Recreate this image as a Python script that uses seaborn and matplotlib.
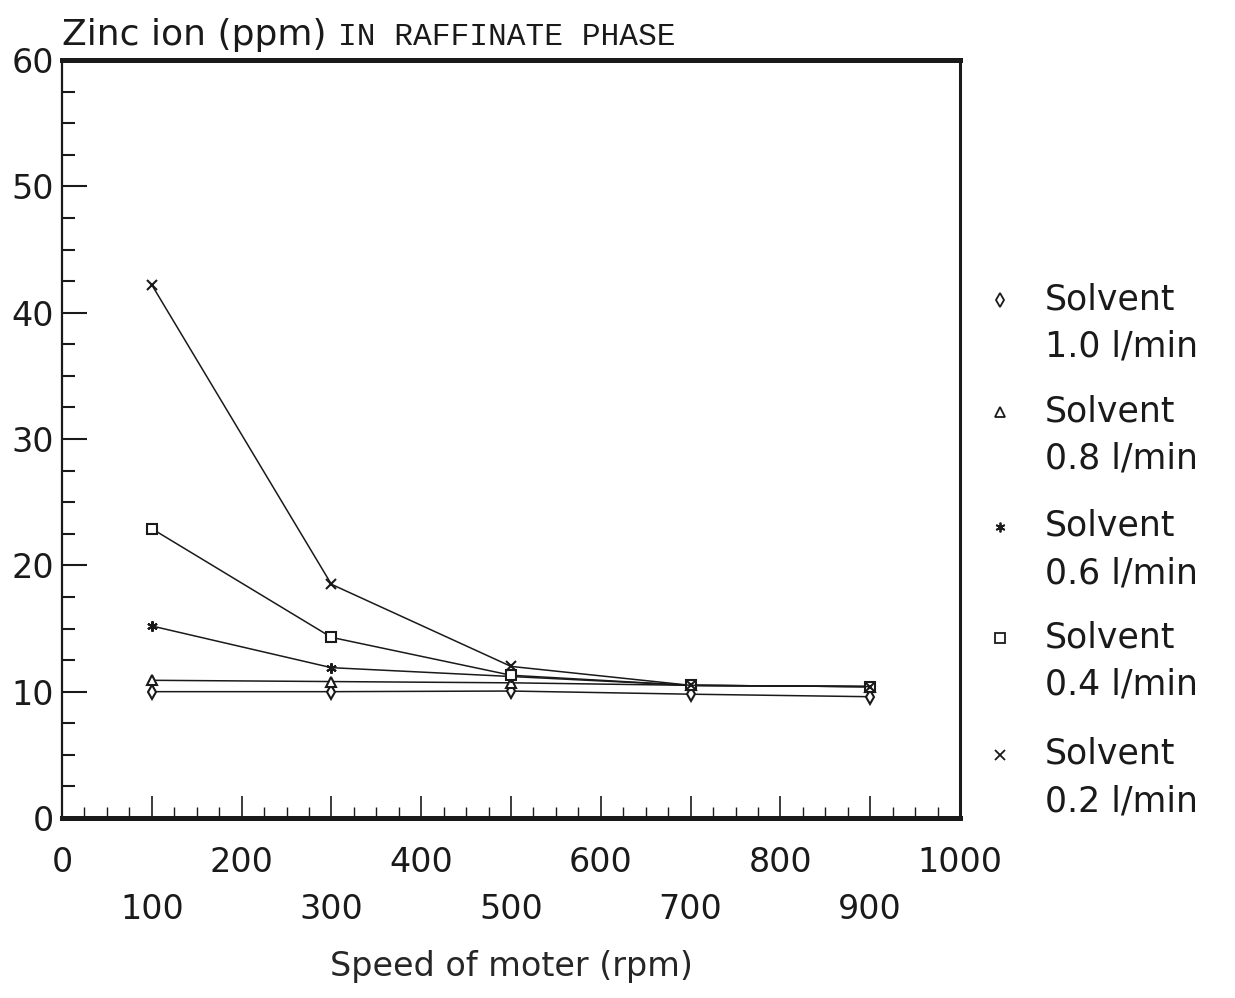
import numpy as np
import pandas as pd
import matplotlib
matplotlib.use('Agg')
import matplotlib.pyplot as plt
from matplotlib.lines import Line2D
from matplotlib.ticker import MultipleLocator
import seaborn as sns

# Data
speed = [100, 300, 500, 700, 900]
solvent_rates = ['1.0', '0.8', '0.6', '0.4', '0.2']
zinc_10 = [10.0, 10.0, 10.05, 9.8, 9.6]
zinc_08 = [10.9, 10.8, 10.7, 10.5, 10.4]
zinc_06 = [15.2, 11.9, 11.2, 10.5, 10.4]
zinc_04 = [22.9, 14.3, 11.3, 10.5, 10.4]
zinc_02 = [42.2, 18.5, 12.0, 10.5, 10.4]
x_ticks = [0, 100, 200, 300, 400, 500, 600, 700, 800, 900, 1000]
y_ticks = [0, 10, 20, 30, 40, 50, 60]

series = [zinc_10, zinc_08, zinc_06, zinc_04, zinc_02]
df = pd.DataFrame({
    'speed': speed * len(series),
    'zinc': np.concatenate(series),
    'solvent': np.repeat(solvent_rates, len(speed)),
})

sns.set_style('ticks')
plt.rcParams['font.family'] = ['DejaVu Sans']

marker_map = {'1.0': 'd', '0.8': '^', '0.6': (6, 2, 0), '0.4': 's', '0.2': 'x'}
ink = '#1a1a1a'

fig = plt.figure(figsize=(12.35, 9.98), dpi=100)
ax = fig.add_axes([62 / 1235, 1 - 818 / 998, (960 - 62) / 1235, (818 - 60) / 998])

for rate in solvent_rates:
    sub = df[df['solvent'] == rate]
    sns.lineplot(data=sub, x='speed', y='zinc', color=ink, linewidth=1.1,
                 marker=marker_map[rate], markersize=7.5, markerfacecolor='white',
                 markeredgecolor=ink, markeredgewidth=1.5, legend=False, ax=ax)

ax.set_xlim(0, 1000)
ax.set_ylim(0, 60)
ax.set_xlabel('Speed of moter (rpm)', fontsize=24, labelpad=17)
ax.set_ylabel('')

ax.set_xticks(x_ticks)
ax.set_xticklabels([str(t) if i % 2 == 0 else '\n' + str(t) for i, t in enumerate(x_ticks)],
                   linespacing=1.55)
ax.xaxis.set_minor_locator(MultipleLocator(25))
ax.set_yticks(y_ticks)
ax.yaxis.set_minor_locator(MultipleLocator(2.5))

ax.tick_params(axis='x', which='major', direction='in', length=16, width=1.2,
               labelsize=24, pad=20, colors=ink)
ax.tick_params(axis='x', which='minor', direction='in', length=8, width=1.0, colors=ink)
ax.tick_params(axis='y', which='major', direction='in', length=18, width=1.5,
               labelsize=24, pad=6, colors=ink)
ax.tick_params(axis='y', which='minor', direction='in', length=9, width=1.5, colors=ink)

for side, lw in {'top': 3.6, 'bottom': 3.6, 'left': 1.6, 'right': 2.2}.items():
    ax.spines[side].set_visible(True)
    ax.spines[side].set_linewidth(lw)
    ax.spines[side].set_color(ink)

# Title in two fonts
fig.text(62 / 1235, 1 - 45 / 998, 'Zinc ion (ppm)', fontsize=26, color=ink, va='baseline')
fig.text(338 / 1235, 1 - 45 / 998, 'IN RAFFINATE PHASE', fontsize=22.5, color=ink,
         va='baseline', family=['Liberation Mono', 'DejaVu Sans Mono'])

# Legend on the right, marker beside the first line of each label
legend_y = [300, 412, 527, 638, 755]
for rate, y in zip(solvent_rates, legend_y):
    fig.add_artist(Line2D([1000 / 1235], [1 - y / 998], transform=fig.transFigure,
                          marker=marker_map[rate], markersize=7, markerfacecolor='white',
                          markeredgecolor=ink, markeredgewidth=1.3, linestyle='none'))
    fig.text(1045 / 1235, 1 - (y - 18) / 998, 'Solvent\n' + rate + ' l/min',
             fontsize=25, color=ink, va='top', ha='left', linespacing=1.5)

fig.savefig('out.png', dpi=100, facecolor='white')
